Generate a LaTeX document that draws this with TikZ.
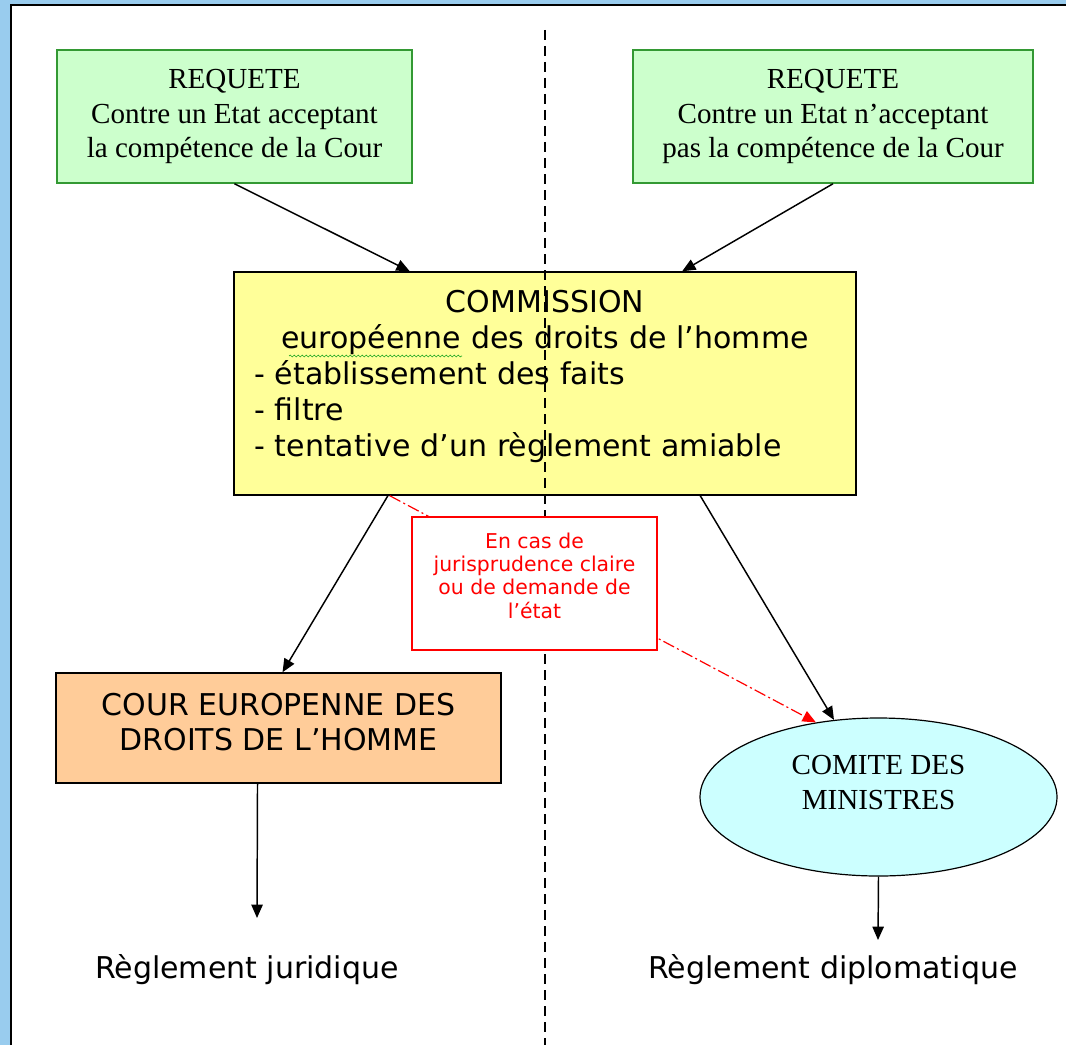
\documentclass[tikz,border=0pt]{standalone}
\usepackage{fontspec}
\setmainfont{Liberation Serif}
\newfontfamily\dvs{DejaVu Sans}
\usetikzlibrary{arrows.meta,calc,shapes.geometric,decorations.pathmorphing}

\definecolor{frameblue}{RGB}{153,204,238}
\definecolor{reqfill}{RGB}{204,255,204}
\definecolor{reqline}{RGB}{51,153,51}
\definecolor{commfill}{RGB}{255,255,153}
\definecolor{courfill}{RGB}{255,204,153}
\definecolor{comfill}{RGB}{204,255,255}
\definecolor{spellgreen}{RGB}{40,170,40}

\newcommand{\serifA}{\fontsize{21.8pt}{25.9pt}\selectfont}
\newcommand{\sansA}{\dvs\fontsize{22.5pt}{27pt}\selectfont}
\newcommand{\sansB}{\dvs\fontsize{22.5pt}{26.3pt}\selectfont}
\newcommand{\sansC}{\dvs\fontsize{15.3pt}{17.5pt}\selectfont}

\tikzset{
  reqbox/.style={draw=reqline, fill=reqfill, line width=1.1pt, inner sep=0pt,
    minimum height=99.75pt, align=center, font=\serifA},
  commbox/.style={draw=black, fill=commfill, line width=1.1pt, inner xsep=15pt, inner ysep=0pt,
    minimum width=466.5pt, minimum height=167.25pt, text width=436.5pt, align=left, font=\sansA},
  notebox/.style={draw=red, fill=white, line width=1.1pt, inner sep=0pt,
    minimum width=183.75pt, minimum height=99.75pt, align=center, text=red, font=\sansC},
  courbox/.style={draw=black, fill=courfill, line width=1.1pt, inner sep=0pt,
    minimum width=333.75pt, minimum height=82.5pt, align=center, font=\sansB},
  comitebox/.style={ellipse, draw=black, fill=comfill, line width=0.9pt, inner sep=0pt,
    minimum width=267.75pt, minimum height=118.5pt, align=center, font=\serifA},
  outcome/.style={font=\sansB, anchor=base, inner sep=0pt},
  flow/.style={draw=black, line width=1.1pt, -{Triangle[length=10pt,width=8.5pt]}},
  special/.style={draw=red, line width=0.9pt, dash pattern=on 9pt off 2.5pt on 1.5pt off 2.5pt,
    -{Triangle[length=10pt,width=8.5pt]}},
  divider/.style={draw=black, line width=1.4pt, dash pattern=on 7.5pt off 4.5pt}
}

\begin{document}
\begin{tikzpicture}[x=0.75pt,y=-0.75pt]
\useasboundingbox (0,0) rectangle (1066,1045);
% page frame
\fill[frameblue] (0,0) rectangle (1066,1045);
\fill[white] (11,5) rectangle (1066,1045);
\draw[black, line width=1.5pt] (11,1045) -- (11,5) -- (1066,5);

% requests
\node[reqbox, minimum width=266.25pt] (req1) at (234.5,116.5)
  {REQUETE\\Contre un Etat acceptant\\la compétence de la Cour};
\node[reqbox, minimum width=300pt] (req2) at (833,116.5)
  {REQUETE\\Contre un Etat n’acceptant\\pas la compétence de la Cour};

% commission
\node[commbox] (comm) at (545,383.5)
  {\makebox[\linewidth]{COMMISSION}\\
   \makebox[\linewidth]{européenne des droits de l’homme}\\
   - établissement des faits\\
   - filtre\\
   - tentative d’un règlement amiable\rule[-15pt]{0pt}{0pt}};
\draw[spellgreen, line width=0.5pt, decorate,
  decoration={snake, amplitude=0.7pt, segment length=3pt}] (289,356) -- (462,356);

\draw[flow] (req1.south) -- ($(comm.north west)!0.283!(comm.north east)$);
\draw[flow] (req2.south) -- ($(comm.north west)!0.720!(comm.north east)$);

% dashed divider
\coordinate (vtop) at (545,30);
\coordinate (vbot) at (545,1045);
\draw[divider] (vtop) -- (vbot);

% lower nodes
\node[comitebox] (comite) at (878.5,797)
  {COMITE DES\\MINISTRES\rule[-21.75pt]{0pt}{0pt}};
\node[courbox] (cour) at (278.5,728)
  {COUR EUROPENNE DES\\DROITS DE L’HOMME\rule[-9.75pt]{0pt}{0pt}};

% special path (behind the note)
\draw[special] ($(comm.south west)!0.251!(comm.south east)$) -- (comite.130);
\node[notebox] (note) at (534.5,583.5)
  {En cas de\\jurisprudence claire\\ou de demande de\\l’état\rule[-12pt]{0pt}{0pt}};

\draw[flow] ($(comm.south west)!0.248!(comm.south east)$) -- ($(cour.north west)!0.509!(cour.north east)$);
\draw[flow] ($(comm.south west)!0.749!(comm.south east)$) -- (comite.120.6);

% outcomes
\coordinate (endj) at (257,918);
\coordinate (endd) at (878,940);
\draw[flow] ($(cour.south west)!0.453!(cour.south east)$) -- (endj);
\draw[flow] (comite.south) -- (endd);
\node[outcome] (regj) at (247,978) {Règlement juridique};
\node[outcome] (regd) at (833,978) {Règlement diplomatique};
\end{tikzpicture}
\end{document}
